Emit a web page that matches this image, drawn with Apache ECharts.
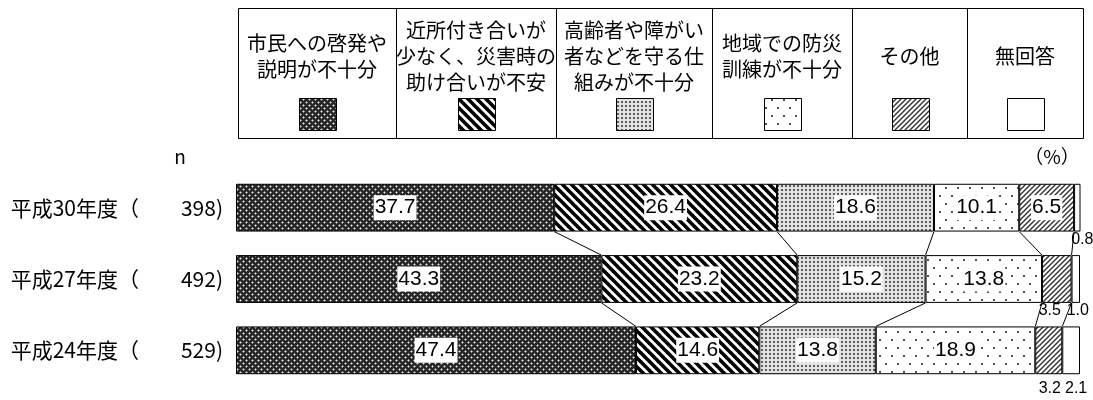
<!DOCTYPE html>
<html><head><meta charset="utf-8">
<script src="https://cdn.jsdelivr.net/npm/echarts@6/dist/echarts.min.js"></script>
<style>html,body{margin:0;padding:0;background:#fff}#c{width:1093px;height:400px}</style>
</head><body><div id="c"></div>
<script>
// ---- data ----
const categories = ['平成30年度', '平成27年度', '平成24年度'];
const nValues = [398, 492, 529];
const seriesNames = ['市民への啓発や説明が不十分', '近所付き合いが少なく、災害時の助け合いが不安', '高齢者や障がい者などを守る仕組みが不十分', '地域での防災訓練が不十分', 'その他', '無回答'];
const legendLines = [['市民への啓発や', '説明が不十分'], ['近所付き合いが', '少なく、災害時の', '助け合いが不安'], ['高齢者や障がい', '者などを守る仕', '組みが不十分'], ['地域での防災', '訓練が不十分'], ['その他'], ['無回答']];
const keihatsu = [37.7, 43.3, 47.4];
const kinjo = [26.4, 23.2, 14.6];
const koreisha = [18.6, 15.2, 13.8];
const kunren = [10.1, 13.8, 18.9];
const sonota = [6.5, 3.5, 3.2];
const mukaito = [0.8, 1.0, 2.1];
const seriesValues = [keihatsu, kinjo, koreisha, kunren, sonota, mukaito];

// ---- patterns ----
function tile(w, h, draw) { const c = document.createElement('canvas'); c.width = w; c.height = h; const x = c.getContext('2d'); draw(x, w, h); return c; }
const pat = [
  tile(6, 6, (g) => { g.fillStyle = '#262626'; g.fillRect(0, 0, 6, 6); g.fillStyle = '#8c8c8c';
    [[1,0],[5,0],[0,1],[0,5],[2,3],[4,3],[3,2],[3,4]].forEach(p => g.fillRect(p[0], p[1], 1, 1));
    g.fillStyle = '#e0e0e0'; g.fillRect(0, 0, 1, 1); g.fillRect(3, 3, 1, 1); }),
  tile(9, 9, (g) => { g.fillStyle = '#fff'; g.fillRect(0, 0, 9, 9); g.strokeStyle = '#000'; g.lineWidth = 3.6;
    [-9, 0, 9].forEach(o => { g.beginPath(); g.moveTo(o - 2, -2); g.lineTo(o + 11, 11); g.stroke(); }); }),
  tile(4, 4, (g) => { g.fillStyle = '#e2e2e2'; g.fillRect(0, 0, 4, 4); g.fillStyle = '#5e5e5e'; g.fillRect(1, 1, 2, 2); }),
  tile(12, 16, (g) => { g.fillStyle = '#fff'; g.fillRect(0, 0, 12, 16); g.fillStyle = '#555'; g.fillRect(3, 3, 2, 2); g.fillRect(9, 11, 2, 2); }),
  tile(5, 5, (g) => { g.fillStyle = '#fff'; g.fillRect(0, 0, 5, 5); g.strokeStyle = '#333'; g.lineWidth = 1.4;
    [-5, 0, 5].forEach(o => { g.beginPath(); g.moveTo(o - 1, 6); g.lineTo(o + 6, -1); g.stroke(); }); }),
  null
];
const fills = pat.map(p => p ? { image: p, repeat: 'repeat' } : '#ffffff');

const BAR_RATIO = 0.67;
const numFont = '"Liberation Sans", Arial, sans-serif';
const jpFont = '"Noto Sans CJK JP", sans-serif';

// horizontal nudges for the small outside labels, per row: [その他, 無回答]
const smallLabelShift = [[-3, 5], [-7, 2], [1, 5]];

// ---- bar series ----
const barSeries = seriesValues.map((vals, si) => ({
  name: seriesNames[si], type: 'bar', stack: 'all', barWidth: (BAR_RATIO * 100) + '%',
  itemStyle: { color: fills[si], borderColor: '#000', borderWidth: 1 },
  data: vals.map((v, ri) => {
    const small = v < 5;
    return {
      value: v,
      label: small ? {
        show: true, position: 'bottom', distance: ri === 2 ? 6 : 0,
        color: '#000', fontFamily: numFont, fontSize: 16,
        offset: [smallLabelShift[ri][si === 5 ? 1 : 0], 0],
        formatter: (p) => p.value.toFixed(1)
      } : {
        show: true, position: 'inside', color: '#000', fontFamily: numFont, fontSize: 21,
        backgroundColor: '#fff', padding: [1, 1, 0, 1], lineHeight: 24,
        formatter: (p) => p.value.toFixed(1)
      }
    };
  })
}));

// connector lines between consecutive rows at each stacked boundary
const connectorData = [];
for (let r = 0; r < categories.length - 1; r++) {
  let a = 0, b = 0;
  for (let s = 0; s < seriesValues.length - 1; s++) {
    a += seriesValues[s][r]; b += seriesValues[s][r + 1];
    connectorData.push([a, r, b]);
  }
}
const connectorSeries = {
  type: 'custom', z: 5, silent: true,
  encode: { x: [0, 2], y: 1 },
  renderItem: (params, api) => {
    const r = api.value(1);
    const p1 = api.coord([api.value(0), r]);
    const p2 = api.coord([api.value(2), r + 1]);
    const half = api.size([0, 1])[1] * BAR_RATIO / 2;
    return { type: 'line', shape: { x1: p1[0], y1: p1[1] + half, x2: p2[0], y2: p2[1] - half },
      style: { stroke: '#000', lineWidth: 1 } };
  },
  data: connectorData
};

// ---- legend table (graphic) ----
const colEdges = [238, 396, 556, 712, 852, 967, 1083];
const tableTop = 8, tableBottom = 138;
const graphics = [];
for (let i = 0; i < 6; i++) {
  const x0 = colEdges[i], x1 = colEdges[i + 1], cx = (x0 + x1) / 2;
  graphics.push({ type: 'rect', shape: { x: x0 + 0.5, y: tableTop + 0.5, width: x1 - x0, height: tableBottom - tableTop },
    style: { fill: '#fff', stroke: '#000', lineWidth: 1 }, z: 1 });
  graphics.push({ type: 'text', z: 2, style: { text: legendLines[i].join('\n'), x: cx, y: 56, align: 'center', verticalAlign: 'middle',
    fill: '#000', font: '20px ' + jpFont, lineHeight: 26 } });
  graphics.push({ type: 'rect', z: 2, shape: { x: Math.round(cx - 18) + 0.5, y: 98.5, width: 37, height: 32 },
    style: { fill: fills[i], stroke: '#000', lineWidth: 1 } });
}
graphics.push({ type: 'text', z: 2, style: { text: 'n', x: 180, y: 157, align: 'center', verticalAlign: 'middle', fill: '#000', font: '19px ' + jpFont } });
graphics.push({ type: 'text', z: 2, style: { text: '（%）', x: 1052, y: 157, align: 'center', verticalAlign: 'middle', fill: '#000', font: '19px ' + jpFont } });

const chart = echarts.init(document.getElementById('c'), null, { renderer: 'canvas' });
chart.setOption({
  animation: false,
  backgroundColor: '#fff',
  grid: { left: 236, right: 13, top: 172, bottom: 14, containLabel: false },
  xAxis: { type: 'value', min: 0, max: 100, show: false },
  yAxis: {
    type: 'category', inverse: true, data: categories,
    axisLine: { show: false }, axisTick: { show: false }, splitLine: { show: false },
    axisLabel: {
      margin: 13, color: '#000', fontFamily: jpFont, fontSize: 21,
      formatter: (v, i) => '{a|' + v + '（}{b|' + nValues[i] + ')}',
      rich: { a: { fontFamily: jpFont, fontSize: 21, color: '#000' },
              b: { fontFamily: jpFont, fontSize: 21, color: '#000', width: 84, align: 'right' } }
    }
  },
  graphic: { elements: graphics },
  series: barSeries.concat([connectorSeries])
});
</script></body></html>
